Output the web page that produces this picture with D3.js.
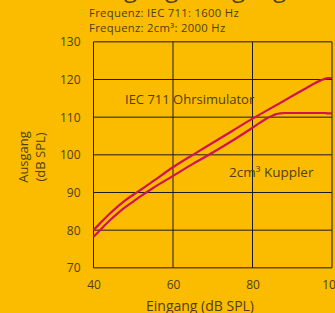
<!DOCTYPE html>
<html><head><meta charset="utf-8">
<script src="https://cdnjs.cloudflare.com/ajax/libs/d3/7.8.5/d3.min.js"></script>
<style>
html,body{margin:0;padding:0;background:#fbbc00;overflow:hidden}
svg{display:block}
text{font-family:"Open Sans",sans-serif;fill:#4f3f12}
</style></head><body>
<svg id="c" width="335" height="313"></svg>
<script>
const titleText = "Eingang, Ausgang";
const subtitleLines = ["Frequenz: IEC 711: 1600 Hz", "Frequenz: 2cm³: 2000 Hz"];
const xLabel = "Eingang (dB SPL)";
const yLabelLines = ["Ausgang", "(dB SPL)"];
const xTicks = [40, 60, 80, 100];
const yTicks = [70, 80, 90, 100, 110, 120, 130];
const seriesNames = ["IEC 711 Ohrsimulator", "2cm³ Kuppler"];
const inputLevels = [40, 42, 44, 46, 48, 50, 52, 55, 60, 65, 70, 75, 80, 82, 84, 85, 86, 87, 88, 90, 93, 95, 97, 98, 99, 100];
const iecOutput =   [80, 82.2, 84.3, 86.2, 87.9, 89.4, 90.8, 93, 96.7, 100, 103.2, 106.4, 109.6, 110.8, 112, 112.6, 113.2, 113.8, 114.4, 115.6, 117.4, 118.6, 119.7, 120.1, 120.35, 120.4];
const couplerOutput = [78.2, 80.4, 82.5, 84.4, 86.1, 87.6, 89.1, 91.2, 94.4, 97.6, 100.6, 103.8, 107.2, 108.6, 109.9, 110.4, 110.8, 111, 111.1, 111.1, 111.1, 111.1, 111.1, 111.1, 111, 111];

const svg = d3.select("#c");
const x = d3.scaleLinear().domain([40, 100]).range([93.5, 332]);
const y = d3.scaleLinear().domain([70, 130]).range([267.83, 41.83]);

// title (mostly outside the view)
svg.append("text").attr("x", 90).attr("y", -3).attr("font-size", 24).text(titleText);
svg.selectAll("text.sub").data(subtitleLines).join("text").attr("class","sub")
  .attr("x", 89).attr("y", (d,i)=>17+i*15).attr("font-size", 11.3)
  .attr("letter-spacing", 0.3).text(d=>d);

// grid
const g = svg.append("g");
g.selectAll("line.h").data(yTicks).join("line").attr("class","h")
  .attr("x1", x(40)).attr("x2", x(100)).attr("y1", d=>y(d)).attr("y2", d=>y(d))
  .attr("stroke", "#1a1a1a").attr("stroke-width", 1);
g.selectAll("line.v").data(xTicks).join("line").attr("class","v")
  .attr("y1", y(70)).attr("y2", y(130)).attr("x1", d=>x(d)).attr("x2", d=>x(d))
  .attr("stroke", "#1a1a1a").attr("stroke-width", 1);

// axes labels
const xAxis = d3.axisBottom(x).tickValues(xTicks).tickSize(0).tickPadding(0);
const xa = svg.append("g").attr("transform", `translate(0,${y(70)+13})`).call(xAxis);
xa.select(".domain").remove();
xa.selectAll("text").attr("font-size", 12).attr("fill", "#4f3f12").attr("font-family", '"Open Sans",sans-serif');
const yAxis = d3.axisLeft(y).tickValues(yTicks).tickSize(0).tickPadding(0);
const ya = svg.append("g").attr("transform", `translate(${x(40)-13},0)`).call(yAxis);
ya.select(".domain").remove();
ya.selectAll("text").attr("font-size", 12).attr("fill", "#4f3f12").attr("font-family", '"Open Sans",sans-serif');

svg.append("text").attr("x", 200).attr("y", 311).attr("text-anchor", "middle").attr("font-size", 14).text(xLabel);
svg.selectAll("text.yl").data(yLabelLines).join("text").attr("class","yl")
  .attr("transform", (d,i)=>`translate(${28+i*17},157) rotate(-90)`)
  .attr("text-anchor", "middle").attr("font-size", 13).text(d=>d);

// curves
const line = d3.line().x((d,i)=>x(inputLevels[i])).y(d=>y(d)).curve(d3.curveMonotoneX);
[iecOutput, couplerOutput].forEach(s=>{
  svg.append("path").attr("d", line(s)).attr("fill", "none")
    .attr("stroke", "#d2124f").attr("stroke-width", 2.2);
});

// series annotations
svg.append("text").attr("x", 125).attr("y", 103.7).attr("font-size", 13).text(seriesNames[0]);
svg.append("text").attr("x", 229).attr("y", 176.7).attr("font-size", 13.5).text(seriesNames[1]);
</script>
</body></html>
